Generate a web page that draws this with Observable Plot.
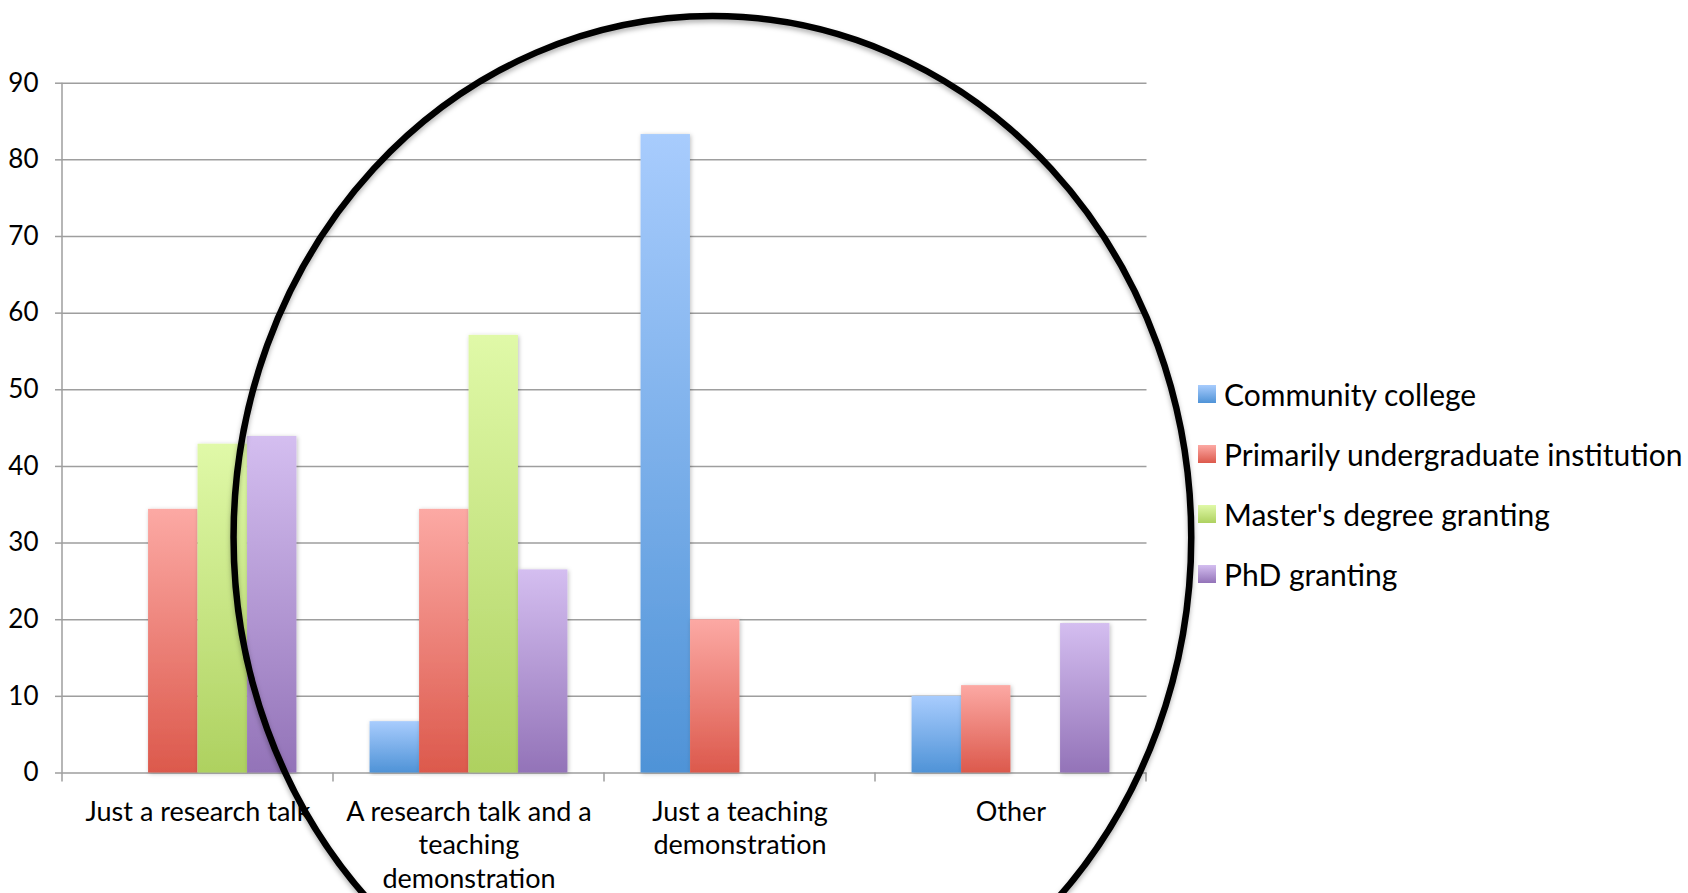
<!DOCTYPE html>
<html>
<head>
<meta charset="utf-8">
<script src="https://cdn.jsdelivr.net/npm/d3@7"></script>
<script src="https://cdn.jsdelivr.net/npm/@observablehq/plot@0.6"></script>
<style>
  html, body { margin: 0; padding: 0; background: #fff; }
  #wrap { position: relative; width: 1688px; height: 893px; overflow: hidden; font-family: Lato, "Open Sans", sans-serif; }
  #legend { position: absolute; left: 1198px; top: 0; }
  .lg-row { position: absolute; left: 0; display: flex; align-items: center; white-space: nowrap; height: 40px; }
  .lg-sw { width: 18px; height: 18px; margin-right: 8px; flex: none; }
  .lg-tx { font-size: 30px; color: #000; line-height: 40px; }
</style>
</head>
<body>
<div id="wrap"><div id="chart"></div><div id="legend"></div></div>
<script>
// ---- data ----
const categories = [
  "Just a research talk",
  "A research talk and a teaching demonstration",
  "Just a teaching demonstration",
  "Other"
];
const categoryLabels = [
  "Just a research talk",
  "A research talk and a\nteaching\ndemonstration",
  "Just a teaching\ndemonstration",
  "Other"
];
const seriesNames = [
  "Community college",
  "Primarily undergraduate institution",
  "Master's degree granting",
  "PhD granting"
];
const communityCollege   = [0, 6.7, 83.3, 10.0];
const primarilyUndergrad = [34.4, 34.4, 20.0, 11.4];
const mastersGranting    = [42.9, 57.1, 0, 0];
const phdGranting        = [43.9, 26.5, 0, 19.5];
const yTicks = [0, 10, 20, 30, 40, 50, 60, 70, 80, 90];

// ---- styles ----
const gradTop    = ["#a8ccfd", "#fca9a4", "#e0f9a8", "#d4bef0"];
const gradBottom = ["#4f93d7", "#dc594c", "#aed160", "#9373b8"];

// annotation ellipse (hand-drawn circle) in data terms
const ellipseCategory = categories[2];
const ellipseBandOffset = 0.40;  // fraction of band from category start
const ellipseValue = 30.7;
const ellipseRadiusBands = 1.767;
const ellipseRadiusValue = 68.0;

const W = 1688, H = 893;
const mL = 62, mR = 541.5, mT = 82.7, mB = 120.5;
const bandW = (W - mL - mR) / categories.length;
const barW = 49.5;
const inset = (bandW - barW) / 2;

const seriesValues = [communityCollege, primarilyUndergrad, mastersGranting, phdGranting];
const rows = [];
seriesValues.forEach((vals, j) => vals.forEach((v, i) => rows.push({category: categories[i], series: seriesNames[j], sj: j, value: v})));

const barMarks = seriesNames.map((s, j) =>
  Plot.barY(rows.filter(d => d.sj === j && d.value > 0), {
    x: "category", y: "value",
    fill: `url(#grad${j})`,
    insetLeft: inset, insetRight: inset,
    dx: (j - 1.5) * barW
  })
);

function frameMark(index, scales) {
  const g = d3.create("svg:g").attr("fill", "none").attr("stroke", "#9e9e9e").attr("stroke-width", 1.5);
  const x = scales.x, y = scales.y;
  const bw = x.bandwidth();
  const y0 = y(0), yTop = y(yTicks[yTicks.length - 1]);
  g.append("line").attr("x1", x(categories[0])).attr("x2", x(categories[0])).attr("y1", yTop).attr("y2", y0);
  const edges = categories.map(c => x(c)).concat([x(categories[categories.length - 1]) + bw]);
  edges.forEach(e => g.append("line").attr("x1", e).attr("x2", e).attr("y1", y0).attr("y2", y0 + 9));
  return g.node();
}

function ellipseMark(index, scales) {
  const x = scales.x, y = scales.y;
  const bw = x.bandwidth();
  const cx = x(ellipseCategory) + ellipseBandOffset * bw;
  const cy = y(ellipseValue);
  const rx = ellipseRadiusBands * bw;
  const ry = Math.abs(y(0) - y(ellipseRadiusValue));
  return d3.create("svg:ellipse")
    .attr("cx", cx).attr("cy", cy).attr("rx", rx).attr("ry", ry)
    .attr("fill", "none").attr("stroke", "#000").attr("stroke-width", 6.5)
    .attr("filter", "url(#ellShadow)")
    .node();
}

const chart = Plot.plot({
  width: W, height: H,
  marginLeft: mL, marginRight: mR, marginTop: mT, marginBottom: mB,
  style: { fontFamily: "Lato, 'Open Sans', sans-serif", fontSize: "27px", color: "#000", background: "#fff", overflow: "visible" },
  x: { type: "band", domain: categories, padding: 0, label: null },
  y: { domain: [0, 90], label: null },
  marks: [
    Plot.gridY(yTicks, { stroke: "#9e9e9e", strokeOpacity: 1, strokeWidth: 1.5 }),
    Plot.axisY(yTicks, { tickSize: 7, tickPadding: 17, stroke: "#9e9e9e", strokeWidth: 1.5, fontSize: 26, fill: "#000", label: null }),
    Plot.axisX({ tickSize: 0, tickPadding: 24, fontSize: 27, lineHeight: 1.24, fill: "#000", label: null,
      tickFormat: d => categoryLabels[categories.indexOf(d)] }),
    ...barMarks,
    frameMark,
    ellipseMark
  ]
});

// defs: gradients and shadows
const svg = d3.select(chart.tagName.toLowerCase() === "svg" ? chart : chart.querySelector("svg"));
const defs = svg.insert("defs", ":first-child");
seriesNames.forEach((s, j) => {
  const lg = defs.append("linearGradient").attr("id", `grad${j}`).attr("x1", 0).attr("y1", 0).attr("x2", 0).attr("y2", 1);
  lg.append("stop").attr("offset", "0%").attr("stop-color", gradTop[j]);
  lg.append("stop").attr("offset", "100%").attr("stop-color", gradBottom[j]);
});
const f1 = defs.append("filter").attr("id", "barShadow").attr("x", "-20%").attr("y", "-5%").attr("width", "140%").attr("height", "110%");
f1.append("feDropShadow").attr("dx", 1).attr("dy", 1).attr("stdDeviation", 2).attr("flood-color", "#000").attr("flood-opacity", 0.25);
const f2 = defs.append("filter").attr("id", "ellShadow").attr("x", "-10%").attr("y", "-10%").attr("width", "120%").attr("height", "120%");
f2.append("feDropShadow").attr("dx", 0).attr("dy", 3).attr("stdDeviation", 2.5).attr("flood-color", "#000").attr("flood-opacity", 0.3);
svg.selectAll("rect").filter(function() { return (this.getAttribute("fill") || "").startsWith("url(#grad") || (this.parentNode.getAttribute("fill") || "").startsWith("url(#grad"); })
  .attr("filter", "url(#barShadow)");

document.getElementById("chart").appendChild(chart);

// legend
const legend = d3.select("#legend");
const legendCenters = [394, 454, 514, 574];
seriesNames.forEach((s, j) => {
  const row = legend.append("div").attr("class", "lg-row").style("top", (legendCenters[j] - 20) + "px");
  row.append("div").attr("class", "lg-sw").style("background", `linear-gradient(${gradTop[j]}, ${gradBottom[j]})`);
  row.append("div").attr("class", "lg-tx").text(s);
});
</script>
</body>
</html>
